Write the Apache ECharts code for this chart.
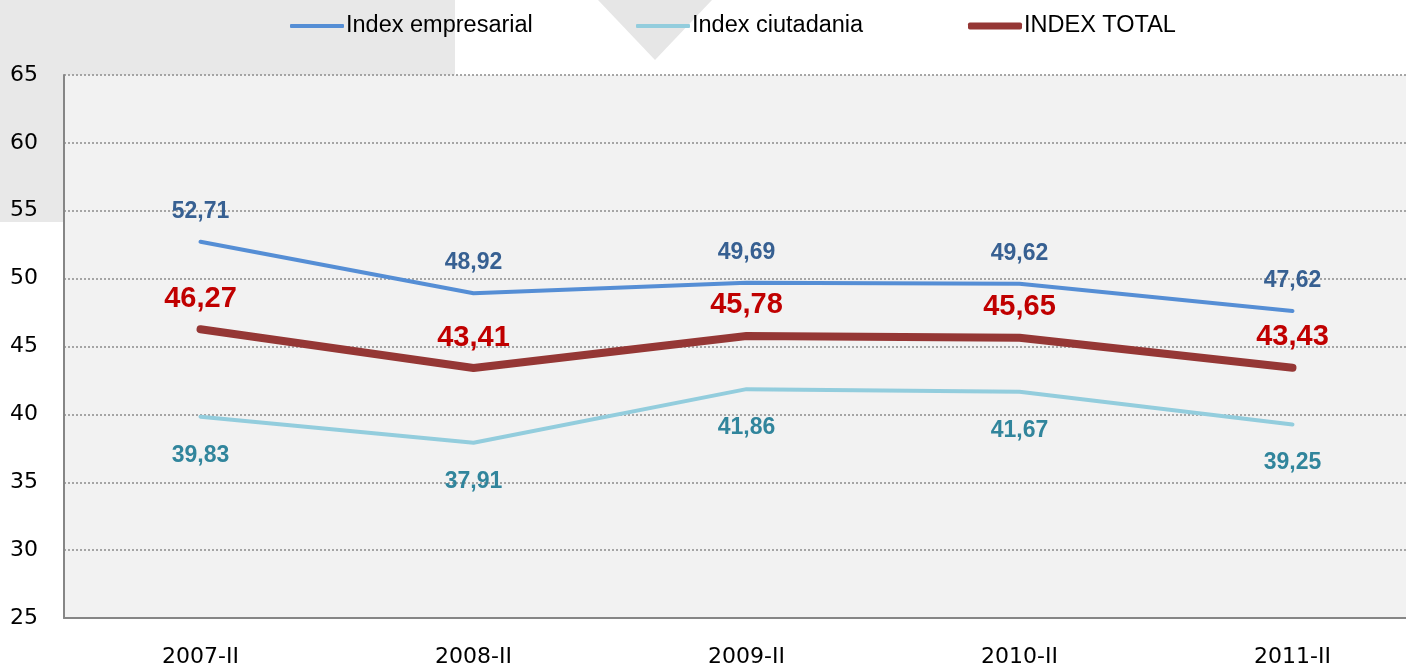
<!DOCTYPE html>
<html>
<head>
    <meta charset="utf-8">
    <title>Index</title>
    <script src="https://cdn.jsdelivr.net/npm/echarts@6/dist/echarts.min.js"></script>
    <style>
        html, body { margin: 0; padding: 0; background: #fff; }
        #chart1 { width: 1406px; height: 664px; }
    </style>
</head>
<body>
<div id="chart1"></div>
<script type="text/javascript">
    // dades
    var periodes = ['2007-II', '2008-II', '2009-II', '2010-II', '2011-II'];
    var empresarial = [52.71, 48.92, 49.69, 49.62, 47.62];
    var ciutadania = [39.83, 37.91, 41.86, 41.67, 39.25];
    var total = [46.27, 43.41, 45.78, 45.65, 43.43];
    var yTicks = [25, 30, 35, 40, 45, 50, 55, 60, 65];

    var font = '"Liberation Sans Narrow", "Liberation Sans", sans-serif';
    function coma(p) { return p.value.toFixed(2).replace('.', ','); }

    function legenda(nom, left, h, color) {
        return {
            data: [nom], left: left, top: 9, icon: 'roundRect',
            itemWidth: 54, itemHeight: h,
            itemStyle: { color: color },
            textStyle: { fontSize: 23.5, color: '#000', fontFamily: font, padding: [0, 0, 0, -3] }
        };
    }

    var chart = echarts.init(document.getElementById('chart1'));
    chart.setOption({
        animation: false,
        graphic: [
            { type: 'rect', z: -10, shape: { x: 0, y: 0, width: 455, height: 222 }, style: { fill: '#e8e8e8' } },
            { type: 'polygon', z: -10, shape: { points: [[598, 0], [712, 0], [655, 60]] }, style: { fill: '#e6e6e6' } }
        ],
        legend: [
            legenda('Index empresarial', 285, 4, '#558ed5'),
            legenda('Index ciutadania', 631, 4, '#93cddd'),
            legenda('INDEX TOTAL', 963, 7, '#953735')
        ],
        grid: {
            left: 64, top: 75, right: -23, bottom: 46,
            outerBoundsMode: 'none',
            show: true, backgroundColor: '#f2f2f2', borderWidth: 0
        },
        xAxis: {
            type: 'category',
            data: periodes,
            axisLine: { lineStyle: { color: '#868686', width: 2 } },
            axisTick: { show: false },
            axisLabel: { color: '#000', fontSize: 22, margin: 28, fontFamily: '"DejaVu Sans", sans-serif' }
        },
        yAxis: {
            type: 'value', min: yTicks[0], max: yTicks[yTicks.length - 1], interval: 5,
            axisLine: { show: true, lineStyle: { color: '#868686', width: 2 } },
            axisTick: { show: false },
            axisLabel: { color: '#000', fontSize: 22, margin: 26, fontFamily: '"DejaVu Sans", sans-serif' },
            splitLine: { lineStyle: { color: '#8c8c8c', type: [2, 2], width: 1.5 } }
        },
        series: [
            {
                name: 'Index empresarial', type: 'line', data: empresarial,
                symbol: 'circle', symbolSize: 0,
                lineStyle: { color: '#558ed5', width: 4, cap: 'round' },
                itemStyle: { color: '#558ed5' },
                label: { show: true, position: 'top', distance: 19, formatter: coma,
                    color: '#376092', fontSize: 23, fontWeight: 'bold', fontFamily: font }
            },
            {
                name: 'Index ciutadania', type: 'line', data: ciutadania,
                symbol: 'circle', symbolSize: 0,
                lineStyle: { color: '#93cddd', width: 4, cap: 'round' },
                itemStyle: { color: '#93cddd' },
                label: { show: true, position: 'bottom', distance: 27, formatter: coma,
                    color: '#31859c', fontSize: 23, fontWeight: 'bold', fontFamily: font }
            },
            {
                name: 'INDEX TOTAL', type: 'line', data: total,
                symbol: 'circle', symbolSize: 0,
                lineStyle: { color: '#953735', width: 8, cap: 'round' },
                itemStyle: { color: '#953735' },
                label: { show: true, position: 'top', distance: 16, formatter: coma,
                    color: '#c00000', fontSize: 29, fontWeight: 'bold', fontFamily: font }
            }
        ]
    });
</script>
</body>
</html>
